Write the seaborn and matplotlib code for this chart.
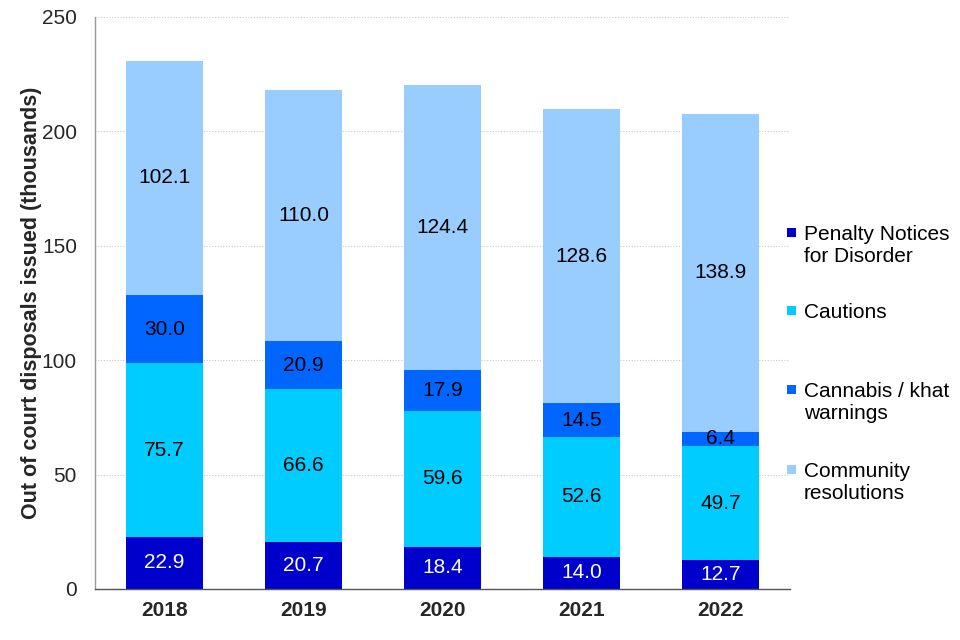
import matplotlib
matplotlib.use("Agg")
import matplotlib.pyplot as plt
import seaborn as sns
import numpy as np
import pandas as pd
from matplotlib.patches import Rectangle

years = ["2018", "2019", "2020", "2021", "2022"]
series_names = ["Penalty Notices\nfor Disorder", "Cautions", "Cannabis / khat\nwarnings", "Community\nresolutions"]
pnd = [22.9, 20.7, 18.4, 14.0, 12.7]
cautions = [75.7, 66.6, 59.6, 52.6, 49.7]
cannabis = [30.0, 20.9, 17.9, 14.5, 6.4]
community = [102.1, 110.0, 124.4, 128.6, 138.9]
colors = ["#0000CC", "#00CCFF", "#0066FF", "#99CCFF"]
text_colors = ["white", "black", "black", "black"]

sns.set_theme(style="white")
plt.rcParams["font.family"] = ["Liberation Sans", "DejaVu Sans"]

W, H = 960, 640
fig = plt.figure(figsize=(9.6, 6.4), dpi=100)
ax = fig.add_axes([95 / W, 1 - 589 / H, 695 / W, 572 / H])

data = np.array([pnd, cautions, cannabis, community])
cum = np.cumsum(data, axis=0)

# draw from top (largest cumulative) down so lower segments overlay
for i in range(3, -1, -1):
    df = pd.DataFrame({"year": years, "value": cum[i]})
    sns.barplot(data=df, x="year", y="value", color=colors[i], width=0.56,
                saturation=1, linewidth=0, edgecolor="none", ax=ax, zorder=2)

for i in range(4):
    for j in range(len(years)):
        mid = cum[i][j] - data[i][j] / 2
        ax.text(j, mid, f"{data[i][j]:.1f}", ha="center", va="center",
                fontsize=15, color=text_colors[i], zorder=5)

ax.set_xlim(-0.5, 4.5)
ax.set_ylim(0, 250)
ax.set_yticks([0, 50, 100, 150, 200, 250])
ax.yaxis.grid(True, linestyle=(0, (1, 1.5)), color="#C8C8C8", linewidth=0.8, zorder=0)
ax.set_axisbelow(True)
ax.tick_params(axis="y", labelsize=15, length=0, pad=13)
ax.tick_params(axis="x", labelsize=15, length=0, pad=9)
for lbl in ax.get_xticklabels():
    lbl.set_fontweight("bold")
ax.set_xlabel("")
ax.set_ylabel("Out of court disposals issued (thousands)", fontsize=15.5, fontweight="bold", labelpad=0)

for s in ["top", "right"]:
    ax.spines[s].set_visible(False)
ax.spines["left"].set_color("#999999")
ax.spines["bottom"].set_color("#555555")
ax.spines["left"].set_linewidth(1)
ax.spines["bottom"].set_linewidth(1)

# legend entries: (first-line centre y in pixels)
leg_y = [233, 311, 390, 470]
for name, c, y in zip(series_names, colors, leg_y):
    fig.patches.append(Rectangle((787 / W, 1 - (y + 4) / H), 9 / W, 9 / H,
                                 transform=fig.transFigure, facecolor=c,
                                 edgecolor="none", figure=fig))
    fig.text(804 / W, 1 - (y - 8) / H, name, ha="left", va="top",
             fontsize=15, linespacing=1.22, color="black")

fig.savefig("out.png", dpi=100)
